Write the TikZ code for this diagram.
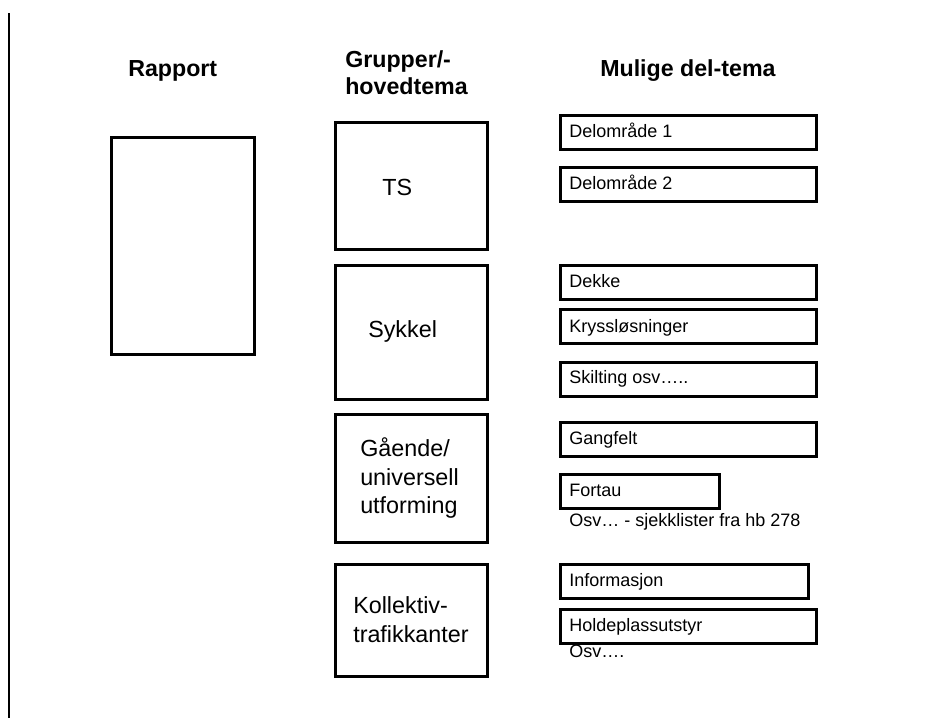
\documentclass[tikz,border=0pt]{standalone}
\usepackage{fontspec}
\setmainfont{Liberation Sans}
\begin{document}
\begin{tikzpicture}[x=0.75pt,y=-0.75pt,
  frame/.style={draw=black,line width=1.9pt,inner sep=0pt,anchor=north west},
  head/.style={font=\bfseries\fontsize{17.4}{20}\selectfont,inner sep=0pt,anchor=base west},
  big/.style={font=\fontsize{17.5}{21}\selectfont,inner sep=0pt,anchor=base west},
  small/.style={font=\fontsize{13.5}{16}\selectfont,inner sep=0pt,anchor=base west}]
\useasboundingbox (0,0) rectangle (947,718);
% left rule
\coordinate (rt) at (9,13);
\coordinate (rb) at (9,718);
\draw[line width=1.6pt] (rt) -- (rb);
% headings
\node[head] (h1) at (128,76) {Rapport};
\node[head] (h2a) at (345,67) {Grupper/-};
\node[head] (h2b) at (345,94) {hovedtema};
\node[head] (h3) at (600,76) {Mulige del-tema};
% rapport box
\node[frame,minimum width=107.25pt,minimum height=162.75pt] (rap) at (110,136) {};
% main group boxes
\node[frame,minimum width=114pt,minimum height=95.25pt] (g1) at (334,121) {};
\node[frame,minimum width=114pt,minimum height=100.5pt] (g2) at (334,264) {};
\node[frame,minimum width=114pt,minimum height=96pt] (g3) at (334,413) {};
\node[frame,minimum width=114pt,minimum height=84pt] (g4) at (334,563) {};
\node[big] (t1) at (382,195) {TS};
\node[big] (t2) at (368,337) {Sykkel};
\node[big] (t3a) at (360,456) {Gående/};
\node[big] (t3b) at (360,485) {universell};
\node[big] (t3c) at (360,513) {utforming};
\node[big] (t4a) at (353,613) {Kollektiv-};
\node[big] (t4b) at (353,642) {trafikkanter};
% sub boxes
\node[frame,minimum width=192pt,minimum height=25.5pt] (s1) at (559,114) {};
\node[frame,minimum width=192pt,minimum height=25.5pt] (s2) at (559,166) {};
\node[frame,minimum width=192pt,minimum height=25.5pt] (s3) at (559,264) {};
\node[frame,minimum width=192pt,minimum height=25.5pt] (s4) at (559,308) {};
\node[frame,minimum width=192pt,minimum height=25.5pt] (s5) at (559,361) {};
\node[frame,minimum width=192pt,minimum height=25.5pt] (s6) at (559,421) {};
\node[frame,minimum width=119.25pt,minimum height=25.5pt] (s7) at (559,473) {};
\node[frame,minimum width=186pt,minimum height=25.5pt] (s8) at (559,563) {};
\node[frame,minimum width=192pt,minimum height=25.5pt] (s9) at (559,608) {};
\node[small] (l1) at (569,137) {Delområde 1};
\node[small] (l2) at (569,189) {Delområde 2};
\node[small] (l3) at (569,287) {Dekke};
\node[small] (l4) at (569,332) {Kryssløsninger};
\node[small] (l5) at (569,383) {Skilting osv…..};
\node[small] (l6) at (569,444) {Gangfelt};
\node[small] (l7) at (569,496) {Fortau};
\node[small] (l8) at (569,526) {Osv… - sjekklister fra hb 278};
\node[small] (l9) at (569,586) {Informasjon};
\node[small] (l10) at (569,631) {Holdeplassutstyr};
\node[small] (l11) at (569,657) {Osv….};
\end{tikzpicture}
\end{document}
